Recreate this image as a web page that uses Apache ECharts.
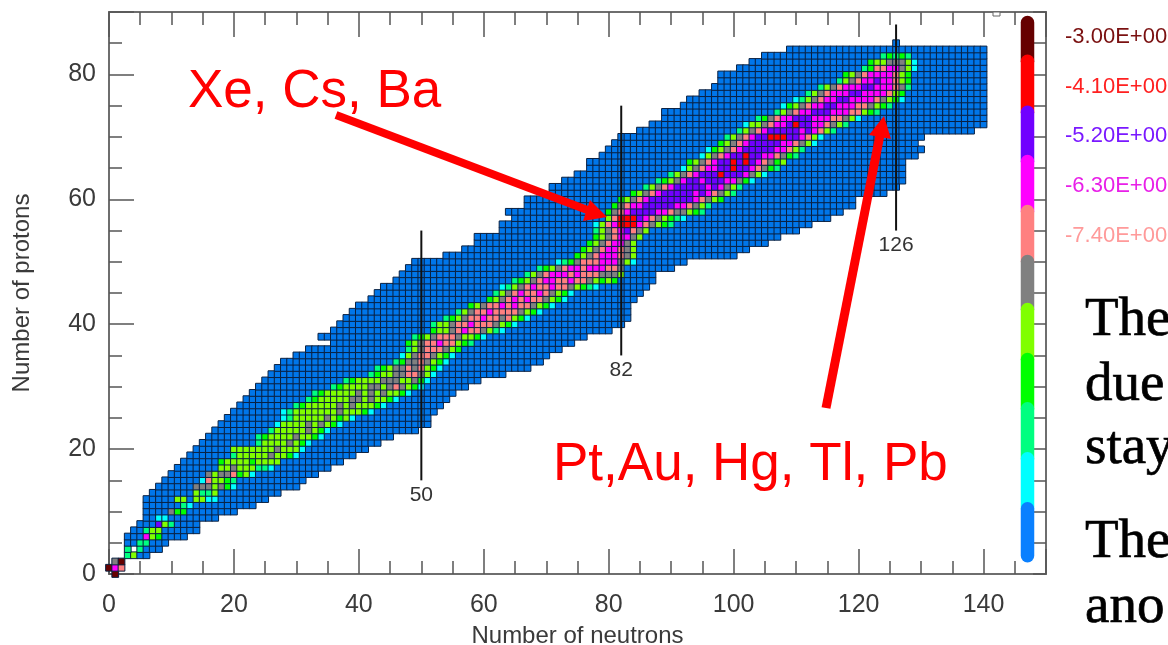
<!DOCTYPE html>
<html><head><meta charset="utf-8">
<style>html,body{margin:0;padding:0;background:#fff;overflow:hidden}#c{width:1168px;height:645px}</style>
<script src="https://cdn.jsdelivr.net/npm/echarts@6/dist/echarts.min.js"></script>
</head><body><div id="c"></div>
<script>
// abundance classes (log10), from top of colour scale to bottom
var classValues = [-3.0,-4.1,-5.2,-6.3,-7.4,-8.5,-9.6,-10.7,-11.8,-12.9,-14.0];
var cellColors  = ['#660000','#ff0000','#7000ff','#ff00ff','#ff8080','#808080','#80ff00','#00ff00','#00ff80','#00ffff','#0076ea'];
var barColors   = ['#660000','#ff0000','#7000ff','#ff00ff','#ff8080','#808080','#80ff00','#00ff00','#00ff80','#00ffff','#0a80ff'];
var barEdges    = [-2.68,-3.54,-4.67,-5.76,-6.87,-7.98,-9.04,-10.15,-11.24,-12.35,-13.46,-14.5];
var legendValues = [-3.0,-4.1,-5.2,-6.3,-7.4];
var legendLabels = ['-3.00E+00','-4.10E+00','-5.20E+00','-6.30E+00','-7.40E+00'];
var legendColors = ['#7a1010','#ff2020','#7a18ff','#e820e8','#ff9a9a'];
// occupied neutron range for each proton number Z = 0..85
var nMin = [1,0,1,3,3,3,3,4,5,6,6,6,6,7,8,9,10,11,12,13,14,15,16,17,18,19,20,21,22,23,24,25,26,27,28,30,32,36,34,36,37,38,39,40,42,43,44,46,47,48,49,54,57,59,59,63,63,65,64,67,67,71,71,73,75,77,77,79,80,81,82,85,87,89,89,92,93,95,97,98,98,101,103,105,109,126];
var nMax = [1,2,2,6,8,9,12,14,14,17,20,23,25,27,30,31,33,35,37,39,41,43,45,49,51,51,52,53,54,55,57,59,63,67,69,70,72,74,76,80,82,83,83,83,84,85,86,87,87,90,92,100,102,105,107,110,112,115,117,119,119,124,126,127,127,127,127,129,130,129,130,138,140,140,140,140,140,140,140,140,140,140,140,140,140,126];
// abundant band: first N of each row, then one class digit per neutron (x = empty cell, . = lowest class)
var bandStart = [1,0,1,3,3,5,6,6,8,8,10,12,11,14,14,15,16,18,18,20,20,24,24,26,27,28,28,30,32,33,36,38,42,43,46,47,48,48,49,52,52,54,56,58,61,62,63,65,67,69,72,75,76,77,78,78,78,80,80,81,82,84,86,88,90,92,93,95,96,98,99,101,102,104,107,108,110,112,114,117,118,121,122,124];
var bandCells = ['0','034','50','86','8x8','88','367','866','268','99','577','89','66.6699','6886',
'5556579','946678','56554769','665666889','7666676666','86666656679','666666656669','866665679','87666656679','8666665679','96666565679','986666656769','986666666566679','876666656566679','876666655656679','8766666565656679','876666556545679','87666655566579','87665544569','87655454679','875545679','965445679','865444567','76544344678','876544456679','766543445689','86654434445679','87654434454679','86544344445679','76544343445679','7654343445679','8654344345679','9865434434456789','87654334434456767','8654333434445556','87654334333445','9875444333569','7654333456','765433456','76543356','76543356','865432456','9643111345678','6411123456789','7543222233455678','7543322222334568','76543222222234567','76543222223234568','8654322222323568','8765322322233579','8654322212223569','9654332212234578','7654322121234576','9654322122334578','9765432222233468','7654322222334569','8654322111223469','8654322222323468','96654332122334568','87543322233344569','86543322233344678','976543322333445678','986543322333345679','8654333223333467','865433322333458','865433233467','76543333467','874433569','76655569','87878'];
// magic-number guide lines: [N, Z low, Z high]
var magicN = [50,82,126];
var magicLow = [15,35,55];
var magicHigh = [55,75,88];
var neutronCats = []; for (var i=0;i<=150;i++) neutronCats.push(String(i));
var protonCats = []; for (var j=0;j<=90;j++) protonCats.push(String(j));

var cells = [];
for (var z=0;z<nMin.length;z++){
  var s = bandCells[z]||'', st = bandStart[z];
  for (var n=nMin[z]; n<=nMax[z]; n++){
    var ch = (n>=st && n-st<s.length) ? s.charAt(n-st) : '.';
    if (ch==='x') continue;
    var k = ch==='.' ? 10 : +ch;
    cells.push([n,z,classValues[k]]);
  }
}

var font='"Liberation Sans",Arial,sans-serif', ink='#3a3a3a', edge='#6e6e6e';
function baseAxis(o){
  var a = {type:'value',gridIndex:o.g,position:o.pos,min:0,max:o.max,interval:o.iv,splitLine:{show:false},
    axisLine:{show:true,onZero:false,lineStyle:{color:edge,width:2}},
    axisTick:{show:true,inside:true,length:o.len,lineStyle:{color:'#555',width:1.5}},
    axisLabel:{show:false}};
  if(o.label){
    a.axisLabel={show:true,fontFamily:font,fontSize:25,color:ink,margin:o.margin,showMinLabel:true,showMaxLabel:true,hideOverlap:false,
      formatter:function(v){return v%20===0?String(v):'';}};
    a.name=o.name;a.nameLocation='middle';a.nameGap=o.gap;
    a.nameTextStyle={fontFamily:font,fontSize:24,color:ink};
    a.nameRotate=o.rot||0;
  }
  return a;
}
var rect={left:109,top:12,width:937,height:562};
function gr(){return {left:rect.left,top:rect.top,width:rect.width,height:rect.height,containLabel:false,outerBoundsMode:'none'};}
var hideAxis=function(t,g,extra){var a={type:t,gridIndex:g,show:false};for(var k in extra)a[k]=extra[k];return a;};

var series=[{
  type:'heatmap',xAxisIndex:4,yAxisIndex:4,data:cells,progressive:0,animation:false,z:2,
  itemStyle:{borderColor:'#0a2040',borderWidth:1},emphasis:{disabled:true}
}];
magicN.forEach(function(n,i){
  series.push({type:'line',xAxisIndex:0,yAxisIndex:0,z:4,silent:true,showSymbol:false,symbol:'none',animation:false,
    lineStyle:{color:'#111',width:2},data:[[n,magicLow[i]],[n,magicHigh[i]]]});
});
series.push({type:'scatter',xAxisIndex:0,yAxisIndex:0,z:4,silent:true,symbolSize:1,itemStyle:{color:'transparent',opacity:1},animation:false,
  data:magicN.map(function(n,i){return [n,magicLow[i]];}),
  label:{show:true,position:'bottom',distance:4,fontFamily:font,fontSize:21,color:'#333',formatter:function(p){return String(p.value[0]);}}});
// colour bar
barColors.forEach(function(c,i){
  series.push({type:'line',xAxisIndex:5,yAxisIndex:5,z:5,clip:false,silent:true,showSymbol:false,symbol:'none',animation:false,
    lineStyle:{color:c,width:13.5,cap:'round'},data:[[0.5,barEdges[i]],[0.5,barEdges[i+1]]]});
});
series.push({type:'scatter',xAxisIndex:5,yAxisIndex:5,z:5,clip:false,silent:true,symbolSize:1,itemStyle:{color:'transparent',opacity:1},animation:false,
  data:legendValues.map(function(v,i){return {value:[0.5,v],label:{show:true,position:'right',distance:37,fontFamily:font,fontSize:22,color:legendColors[i],formatter:legendLabels[i]}};})});

var serif='"Liberation Serif","Times New Roman",serif';
function words(t,x,y){return {type:'text',x:x,y:y-14,z:20,style:{text:t,fontFamily:serif,fontSize:55,fill:'#000',stroke:'#000',lineWidth:0.7,verticalAlign:'middle'}};}
function redText(t,x,y){return {type:'text',x:x,y:y-14.4,z:20,style:{text:t,fontFamily:font,fontSize:53,fill:'#ff0000',verticalAlign:'middle'}};}
var barGrid={left:1021,top:16,width:13,height:546,outerBoundsMode:'none'};
var option={
  backgroundColor:'#fff',animation:false,
  grid:[gr(),gr(),gr(),barGrid],
  xAxis:[
    baseAxis({g:0,pos:'bottom',max:150,iv:20,len:25,label:true,margin:19,name:'Number of neutrons',gap:50}),
    baseAxis({g:0,pos:'top',max:150,iv:20,len:25}),
    baseAxis({g:1,pos:'bottom',max:150,iv:5,len:13}),
    baseAxis({g:1,pos:'top',max:150,iv:5,len:13}),
    hideAxis('category',2,{data:neutronCats,boundaryGap:false}),
    hideAxis('value',3,{min:0,max:1})
  ],
  yAxis:[
    baseAxis({g:0,pos:'left',max:90,iv:20,len:25,label:true,margin:13,name:'Number of protons',gap:75,rot:90}),
    baseAxis({g:0,pos:'right',max:90,iv:20,len:13}),
    baseAxis({g:1,pos:'left',max:90,iv:5,len:13}),
    baseAxis({g:1,pos:'right',max:90,iv:5,len:13}),
    hideAxis('category',2,{data:protonCats,boundaryGap:false}),
    hideAxis('value',3,{min:-14.64,max:-2.534})
  ],
  visualMap:{type:'piecewise',show:false,seriesIndex:0,dimension:2,
    pieces:classValues.map(function(v,i){return {value:v,color:cellColors[i]};})},
  series:series,
  graphic:[
    redText('Xe, Cs, Ba',188,107),
    redText('Pt,Au, Hg, Tl, Pb',553,480),
    {type:'line',z:19,shape:{x1:336,y1:115,x2:590,y2:211},style:{stroke:'#ff0000',lineWidth:8}},
    {type:'polygon',z:19,shape:{points:[[607,217],[590,200],[583,221]]},style:{fill:'#ff0000'}},
    {type:'line',z:19,shape:{x1:826,y1:408,x2:880,y2:135},style:{stroke:'#ff0000',lineWidth:9}},
    {type:'polygon',z:19,shape:{points:[[884,116],[869,135],[891,139]]},style:{fill:'#ff0000'}},
    {type:'rect',z:3,shape:{x:993,y:12,width:7,height:4},style:{fill:'#fff',stroke:'#666',lineWidth:1}},
    words('The',1085,335),words('due',1085,400),words('stay',1085,463),words('The',1085,557),words('ano',1085,622)
  ]
};
echarts.init(document.getElementById('c'),null,{renderer:'canvas'}).setOption(option);
</script>
</body></html>
